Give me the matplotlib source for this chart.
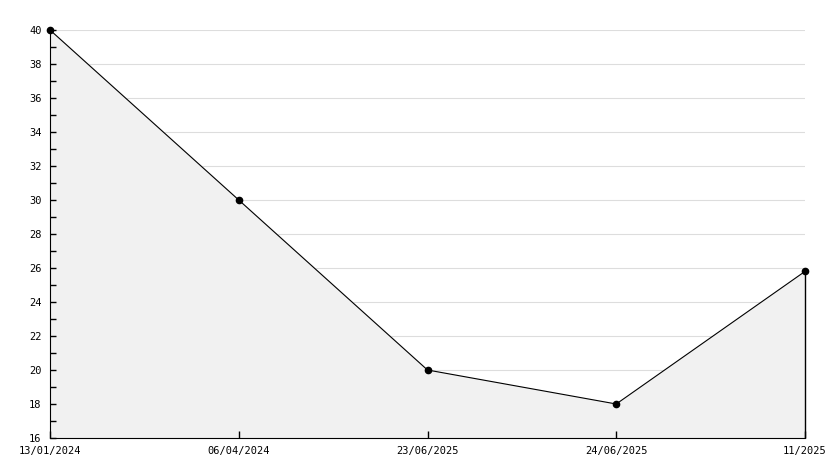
import matplotlib.pyplot as plt
from matplotlib.ticker import MultipleLocator

labels = ['13/01/2024', '06/04/2024', '23/06/2025', '24/06/2025', '11/2025']
values = [40, 30, 20, 18, 25.8]

plt.rcParams['font.family'] = 'DejaVu Sans Mono'
fig = plt.figure(figsize=(8.34, 4.68), dpi=100)
ax = fig.add_axes([50/834, 30/468, 755/834, 408/468])

x = list(range(len(values)))
# grid drawn by hand so it stays under the filled area while ticks stay on top
for yv in range(18, 41, 2):
    ax.axhline(yv, color='#dddddd', lw=0.8, zorder=0.1)
ax.fill_between(x, values, 16, color='#f1f1f1', zorder=0.5)
ax.vlines(x[-1], 16, values[-1], color='black', lw=1, zorder=2, clip_on=False)
ax.plot(x, values, color='black', lw=0.8, marker='o', ms=4.5, zorder=3, clip_on=False)

ax.set_xlim(0, len(values) - 1)
ax.set_ylim(16, 40)
ax.yaxis.set_major_locator(MultipleLocator(2))
ax.yaxis.set_minor_locator(MultipleLocator(1))
ax.set_xticks(x)
ax.set_xticklabels(labels)

for s in ['top', 'right']:
    ax.spines[s].set_visible(False)
ax.tick_params(axis='y', which='both', direction='in', labelsize=7.5, length=4, width=1, pad=6)
ax.tick_params(axis='x', direction='in', labelsize=7.5, length=5, width=1, pad=6)

plt.savefig('out.png', dpi=100)
